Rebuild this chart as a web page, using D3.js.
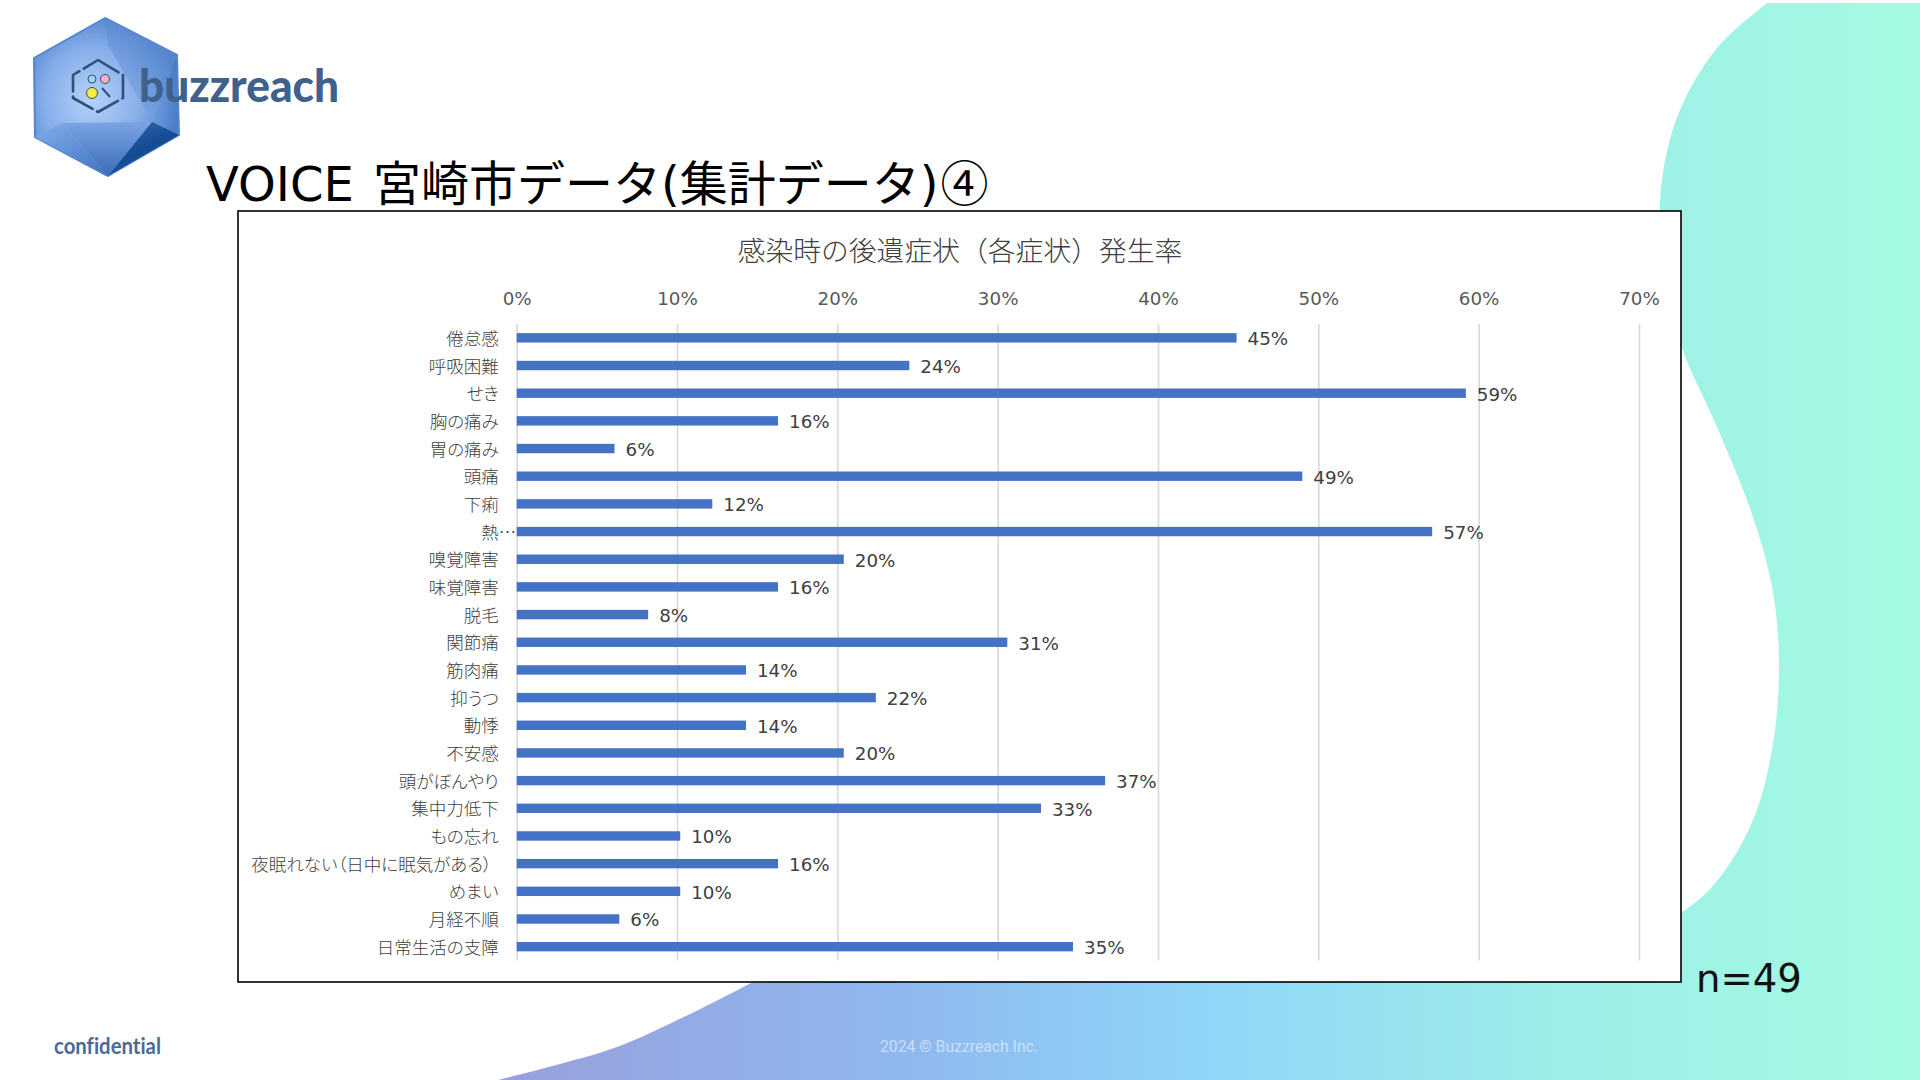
<!DOCTYPE html>
<html lang="ja">
<head>
<meta charset="utf-8">
<title>VOICE 宮崎市データ</title>
<script src="https://cdn.jsdelivr.net/npm/d3@7"></script>
<style>
  html, body { margin: 0; padding: 0; background: #fff; overflow: hidden; }
  svg { display: block; }
  text { font-family: "Noto Sans CJK JP", sans-serif; }
  .num, .num text { font-family: "DejaVu Sans", sans-serif; }
  .cat text { font-feature-settings: "palt"; font-weight: 300; }
</style>
</head>
<body>
<div id="chart"></div>
<script>
// values
const categories = ['倦怠感', '呼吸困難', 'せき', '胸の痛み', '胃の痛み', '頭痛', '下痢', '熱…', '嗅覚障害', '味覚障害',
  '脱毛', '関節痛', '筋肉痛', '抑うつ', '動悸', '不安感', '頭がぼんやり', '集中力低下', 'もの忘れ',
  '夜眠れない（日中に眠気がある）', 'めまい', '月経不順', '日常生活の支障'];
const rates = [44.9, 24.49, 59.2, 16.3, 6.1, 49.0, 12.2, 57.1, 20.4, 16.3,
  8.2, 30.6, 14.3, 22.4, 14.3, 20.4, 36.7, 32.7, 10.2,
  16.3, 10.2, 6.4, 34.7];
const xTicks = [0, 10, 20, 30, 40, 50, 60, 70];

const svg = d3.select('#chart').append('svg')
  .attr('width', 1920)
  .attr('height', 1080);

const defs = svg.append('defs');

function gradient(id, stops, x1, y1, x2, y2) {
  const g = defs.append('linearGradient').attr('id', id)
    .attr('x1', x1).attr('y1', y1).attr('x2', x2).attr('y2', y2);
  stops.forEach(s => g.append('stop').attr('offset', s[0]).attr('stop-color', s[1]));
  return g;
}

// slide background, outline
gradient('bgGrad', [[0, '#989fdc'], [0.28, '#8fb8ee'], [0.5, '#8fd6f8'], [0.75, '#9deee8'], [1, '#a4fbe2']], 500, 0, 1920, 0)
  .attr('gradientUnits', 'userSpaceOnUse');

const rightEdge = [[1767, 3], [1717, 48], [1680, 110], [1663, 172], [1660, 225], [1668, 290], [1682, 348], [1717, 427],
  [1753, 517], [1773, 592], [1779, 665], [1773, 744], [1753, 820], [1717, 881], [1682, 912], [1600, 950]];
const lowerEdge = [[751, 983], [688, 1015], [617, 1047], [560, 1064], [498, 1080]];
const outline = d3.line().curve(d3.curveCatmullRom.alpha(0.5));
svg.append('path')
  .attr('fill', 'url(#bgGrad)')
  .attr('d', 'M1920,3 L' + outline(rightEdge).slice(1) + ' L' + outline(lowerEdge).slice(1) + ' L1920,1080 Z');

// logo
const logo = svg.append('g');
const hexGlow = defs.append('radialGradient').attr('id', 'hexGlow')
  .attr('cx', 0.4).attr('cy', 0.52).attr('r', 0.6);
[[0, '#b5d2f9'], [0.55, '#86aeea'], [1, '#4a7cc8']].forEach(s =>
  hexGlow.append('stop').attr('offset', s[0]).attr('stop-color', s[1]));
gradient('hexMid', [[0, '#7ba3e4'], [1, '#3a6db8']], 0, 0, 0, 1);
gradient('hexDark', [[0, '#3a6db6'], [0.6, '#134a92'], [1, '#2f65ae']], 0, 0, 0.6, 1);
gradient('hexLeft', [[0, '#84aeee'], [1, '#4378c4']], 0, 0, 0.8, 1);
gradient('hexTop', [[0, '#4f82cc'], [1, '#7ea6e4']], 0.7, 0, 0.3, 1);

logo.append('path').attr('d', 'M105,18 L177,55 L179,135 L108,176 L35,137 L34,58 Z')
  .attr('fill', 'url(#hexGlow)').attr('stroke', '#5585cd').attr('stroke-width', 2).attr('stroke-linejoin', 'round');
logo.append('path').attr('d', 'M105,18 L177,55 L152,122 L108,45 Z').attr('fill', 'url(#hexTop)').attr('opacity', 0.6);
logo.append('path').attr('d', 'M62,123 L152,122 L108,176 Z').attr('fill', 'url(#hexMid)');
logo.append('path').attr('d', 'M62,123 L35,137 L108,176 Z').attr('fill', 'url(#hexLeft)');
logo.append('path').attr('d', 'M152,122 L179,135 L108,176 Z').attr('fill', 'url(#hexDark)');

logo.append('path')
  .attr('d', 'M98,60 L123,75 L123,98 L98,112 L73,98 L73,75 Z')
  .attr('fill', 'none').attr('stroke', '#2f5078').attr('stroke-width', 2.6)
  .attr('stroke-linejoin', 'round').attr('stroke-linecap', 'round').attr('stroke-dasharray', '24 5');
logo.append('circle').attr('cx', 92).attr('cy', 79).attr('r', 4).attr('fill', '#9ad7ee').attr('stroke', '#2f5078');
logo.append('circle').attr('cx', 105).attr('cy', 79).attr('r', 4.5).attr('fill', '#f2b3c0').attr('stroke', '#2f5078');
logo.append('circle').attr('cx', 92).attr('cy', 93).attr('r', 5.5).attr('fill', '#f7ec3a').attr('stroke', '#2f5078');
logo.append('line').attr('x1', 102).attr('y1', 88).attr('x2', 110).attr('y2', 97)
  .attr('stroke', '#2f5078').attr('stroke-width', 2);
logo.append('text').attr('x', 139).attr('y', 102)
  .attr('textLength', 200).attr('lengthAdjust', 'spacingAndGlyphs')
  .style('font-family', 'Lato, sans-serif').style('font-weight', 900).style('font-size', '46px')
  .attr('fill', '#3f618c').text('buzzreach');

// page title
const pageTitle = svg.append('text').attr('x', 206).attr('y', 201)
  .style('font-size', '48px').attr('fill', '#000');
pageTitle.append('tspan').style('font-family', '"DejaVu Sans"').text('VOICE ');
pageTitle.append('tspan').attr('dx', 4).text('宮崎市データ');
pageTitle.append('tspan').style('font-family', '"DejaVu Sans"').text('(');
pageTitle.append('tspan').text('集計データ');
pageTitle.append('tspan').style('font-family', '"DejaVu Sans"').text(')');
pageTitle.append('tspan').attr('dx', 2).text('④');

// chart frame
svg.append('rect').attr('x', 238).attr('y', 211).attr('width', 1443).attr('height', 771)
  .attr('fill', '#fff').attr('stroke', '#000').attr('stroke-width', 1.6);

svg.append('text').attr('x', 960).attr('y', 261).attr('text-anchor', 'middle')
  .style('font-size', '27.8px').style('font-weight', 300).attr('fill', '#404040')
  .text('感染時の後遺症状（各症状）発生率');

const x = d3.scaleLinear().domain([0, 70]).range([516.7, 1639]);
const y = d3.scaleBand().domain(categories).range([324, 960.5]).paddingInner(0.66).paddingOuter(0.33);

// top axis with full height gridlines
svg.append('g').attr('class', 'num')
  .attr('transform', 'translate(0,324)')
  .call(d3.axisTop(x).tickValues(xTicks).tickFormat(d => d + '%').tickSize(0).tickPadding(19))
  .call(g => g.select('.domain').remove())
  .call(g => g.selectAll('text').style('font-size', '18.3px').attr('fill', '#595959'))
  .call(g => g.selectAll('.tick').append('line')
    .attr('y1', 0).attr('y2', 636.5)
    .attr('stroke', '#d9d9d9').attr('stroke-width', 1.6));

// category labels
svg.append('g').attr('class', 'cat')
  .attr('transform', 'translate(516.7,1.5)')
  .call(d3.axisLeft(y).tickSize(0).tickPadding(18))
  .call(g => g.select('.domain').remove())
  .call(g => g.selectAll('text').style('font-size', '17.5px').attr('fill', '#404040')
    .attr('dx', d => d === '熱…' ? 17.5 : d.endsWith('）') ? -7 : 0));

svg.append('g').selectAll('rect')
  .data(rates)
  .join('rect')
  .attr('x', x(0))
  .attr('y', (d, i) => y(categories[i]))
  .attr('width', d => x(d) - x(0))
  .attr('height', y.bandwidth())
  .attr('fill', '#4472c4');

svg.append('g').attr('class', 'num').selectAll('text')
  .data(rates)
  .join('text')
  .attr('x', d => x(d) + 11)
  .attr('y', (d, i) => y(categories[i]) + y.bandwidth() / 2 + 7.5)
  .style('font-size', '18.3px')
  .attr('fill', '#404040')
  .text(d => Math.round(d) + '%');

svg.append('text').attr('class', 'num').attr('x', 1696).attr('y', 992)
  .style('font-size', '38.6px').attr('fill', '#111').text('n=49');

svg.append('text').attr('x', 54).attr('y', 1054)
  .style('font-family', 'Lato, sans-serif').style('font-weight', 700).style('font-size', '22px')
  .style('font-variant-ligatures', 'none')
  .attr('textLength', 107).attr('lengthAdjust', 'spacingAndGlyphs')
  .attr('fill', '#4a6a9c').text('confidential');

svg.append('text').attr('x', 880).attr('y', 1052)
  .style('font-family', 'Roboto, sans-serif').style('font-size', '16px')
  .attr('textLength', 158).attr('lengthAdjust', 'spacingAndGlyphs')
  .attr('fill', '#fff').attr('fill-opacity', 0.55).text('2024 © Buzzreach Inc.');
</script>
</body>
</html>
